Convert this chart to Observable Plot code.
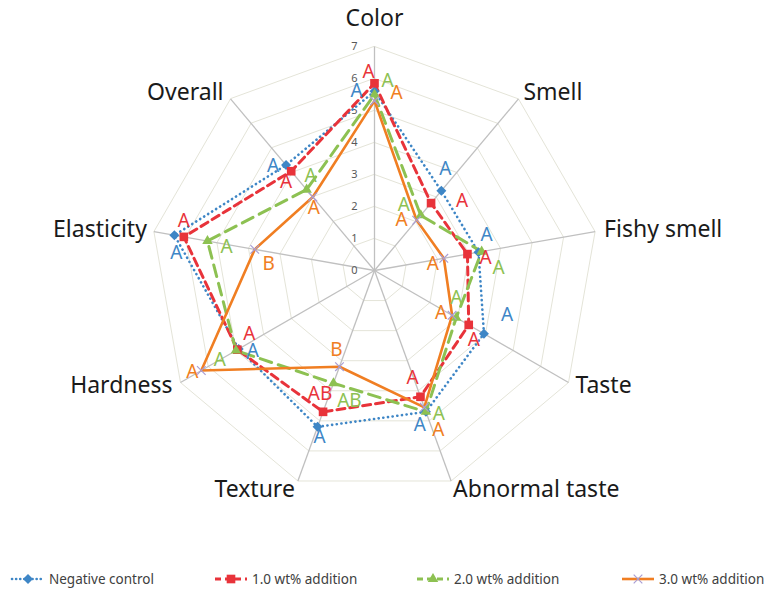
<!DOCTYPE html>
<html>
<head>
<meta charset="utf-8">
<script src="https://cdn.jsdelivr.net/npm/d3@7"></script>
<script src="https://cdn.jsdelivr.net/npm/@observablehq/plot@0.6"></script>
<style>
  body { margin: 0; background: #fff; font-family: "Noto Sans", "Open Sans", sans-serif; }
  #chart { width: 764px; height: 560px; }
  #legend { position: relative; width: 764px; height: 31px; font-size: 13.5px; color: #404040; }
  .item { position: absolute; top: 10px; display: flex; align-items: center; white-space: nowrap; }
  .item svg { margin-right: 3px; }
</style>
</head>
<body>
<div id="chart"></div>
<div id="legend"></div>
<script>
// ---- data ----
const axes = ["Color", "Smell", "Fishy smell", "Taste", "Abnormal taste", "Texture", "Hardness", "Elasticity", "Overall"];
const seriesNames = ["Negative control", "1.0 wt% addition", "2.0 wt% addition", "3.0 wt% addition"];
const negativeControl = [5.6, 3.25, 3.3, 3.95, 4.7, 5.2, 4.9, 6.35, 4.3];
const add10 = [5.85, 2.75, 2.95, 3.4, 4.2, 4.7, 4.95, 6.05, 4.05];
const add20 = [5.5, 2.25, 3.4, 2.95, 4.7, 3.75, 5.0, 5.3, 3.3];
const add30 = [5.3, 2.05, 2.2, 2.8, 4.55, 3.2, 6.25, 3.8, 3.0];
const lettersNeg = ["A", "A", "A", "A", "A", "A", "A", "A", "A"];
const letters10 = ["A", "A", "A", "A", "A", "AB", "A", "A", "A"];
const letters20 = ["A", "A", "A", "A", "A", "AB", "A", "A", "A"];
const letters30 = ["A", "A", "A", "A", "A", "B", "A", "B", "A"];
const ticks = [0, 1, 2, 3, 4, 5, 6, 7];

// ---- styling ----
const colors = ["#3E86C6", "#E8333A", "#8DC152", "#F07E22"];
const PXU = 32; // pixels per unit
// letter label pixel offsets (dx, dy) from each point
const letterOffsets = [
  [[-18,0],[4,-22],[8,-17],[23,-19],[-6,13],[2,10],[14,2],[2,18],[-13,1]],
  [[-6,-11],[31,-2],[18,4],[5,15],[-8,-19],[-3,-18],[12,-16],[0,-16],[-5,11]],
  [[13,-14],[-17,-10],[17,16],[0,-20],[13,2],[16,18],[-16,9],[19,6],[4,-14]],
  [[22,-8],[-15,0],[-11,6],[-11,-2],[14,23],[-3,-17],[-9,1],[14,15],[1,11]]
];
const axisLabelStyle = [
  ["middle",0,-28],["start",5,-6],["start",9,-2],["start",7,3],["start",2,9],
  ["end",-3,9],["end",-8,3],["end",-7,-2],["end",-7,-6]
];

const N = axes.length;
const ang = i => i * 2 * Math.PI / N;
const px = (r, i) => r * Math.sin(ang(i));
const py = (r, i) => r * Math.cos(ang(i));

const allSeries = [negativeControl, add10, add20, add30];
const allLetters = [lettersNeg, letters10, letters20, letters30];

const pts = allSeries.map((vals, s) => vals.map((v, i) => ({
  s, axis: axes[i], v, x: px(v, i), y: py(v, i),
  letter: allLetters[s][i],
  lx: px(v, i) + letterOffsets[s][i][0] / PXU,
  ly: py(v, i) - letterOffsets[s][i][1] / PXU
})));

const grid = [];
for (let lv = 1; lv <= 7; lv++) for (let i = 0; i < N; i++) grid.push({lv, x: px(lv, i), y: py(lv, i)});

const axisLabels = axes.map((a, i) => ({
  a, anchor: axisLabelStyle[i][0],
  x: px(7, i) + axisLabelStyle[i][1] / PXU,
  y: py(7, i) - axisLabelStyle[i][2] / PXU
}));

const lineStyles = [
  {strokeWidth: 2.6, strokeDasharray: "0.1 4.6", strokeLinecap: "round"},
  {strokeWidth: 3, strokeDasharray: "8 5"},
  {strokeWidth: 3, strokeDasharray: "12 7"},
  {strokeWidth: 2.6}
];
const symbols = [
  {symbol: "diamond2", r: 4.5, fill: colors[0]},
  {symbol: "square2", r: 5.5, fill: colors[1]},
  {symbol: "triangle2", r: 5, fill: colors[2]},
  {symbol: "times", r: 4, stroke: "#A99ED4", strokeWidth: 1.2, fill: "none"}
];

const marks = [
  Plot.line(grid, {x: "x", y: "y", z: "lv", curve: "linear-closed", stroke: "#E4E4D8", strokeWidth: 1}),
  Plot.link(axes, {x1: () => 0, y1: () => 0, x2: (d, i) => px(7, i), y2: (d, i) => py(7, i), stroke: "#C0C0C0", strokeWidth: 1.3}),
  Plot.text(ticks, {x: () => -17 / PXU, y: d => d, text: d => String(d), textAnchor: "end", fontSize: 11, fill: "#595959"})
];
pts.forEach((data, s) => {
  marks.push(Plot.line(data, {x: "x", y: "y", curve: "linear-closed", stroke: colors[s], ...lineStyles[s]}));
});
pts.forEach((data, s) => {
  marks.push(Plot.dot(data, {x: "x", y: "y", ...symbols[s]}));
});
pts.forEach((data, s) => {
  marks.push(Plot.text(data, {x: "lx", y: "ly", text: "letter", fill: colors[s], fontSize: 19}));
});
["start", "middle", "end"].forEach(anc => {
  marks.push(Plot.text(axisLabels.filter(d => d.anchor === anc), {x: "x", y: "y", text: "a", textAnchor: anc, fontSize: 23, fill: "#1a1a1a"}));
});

const chart = Plot.plot({
  width: 764, height: 560,
  margin: 0,
  style: {fontFamily: '"Noto Sans", "Open Sans", sans-serif', background: "#fff", overflow: "visible"},
  x: {type: "linear", domain: [0, 1], range: [374, 374 + PXU], axis: null},
  y: {type: "linear", domain: [0, 1], range: [270, 270 - PXU], axis: null},
  marks
});
document.getElementById("chart").appendChild(chart);

// ---- legend ----
const legendX = [10, 213, 415, 620];
const legend = d3.select("#legend");
seriesNames.forEach((name, s) => {
  const item = legend.append("div").attr("class", "item").style("left", legendX[s] + "px");
  const svg = item.append("svg").attr("width", 36).attr("height", 12);
  const ls = lineStyles[s];
  svg.append("line").attr("x1", 2).attr("x2", 34).attr("y1", 6).attr("y2", 6)
    .attr("stroke", colors[s]).attr("stroke-width", ls.strokeWidth)
    .attr("stroke-dasharray", s === 0 ? "0.1 4" : s === 3 ? null : "6 4")
    .attr("stroke-linecap", ls.strokeLinecap || "butt");
  const sym = {diamond2: d3.symbolDiamond2, square2: d3.symbolSquare2, triangle2: d3.symbolTriangle2, times: d3.symbolTimes}[symbols[s].symbol];
  const r = symbols[s].r;
  svg.append("path").attr("transform", "translate(18,6)")
    .attr("d", d3.symbol(sym, Math.PI * r * r)())
    .attr("fill", symbols[s].fill || "none")
    .attr("stroke", symbols[s].stroke || "none")
    .attr("stroke-width", symbols[s].strokeWidth || 0);
  item.append("span").text(name);
});
</script>
</body>
</html>
